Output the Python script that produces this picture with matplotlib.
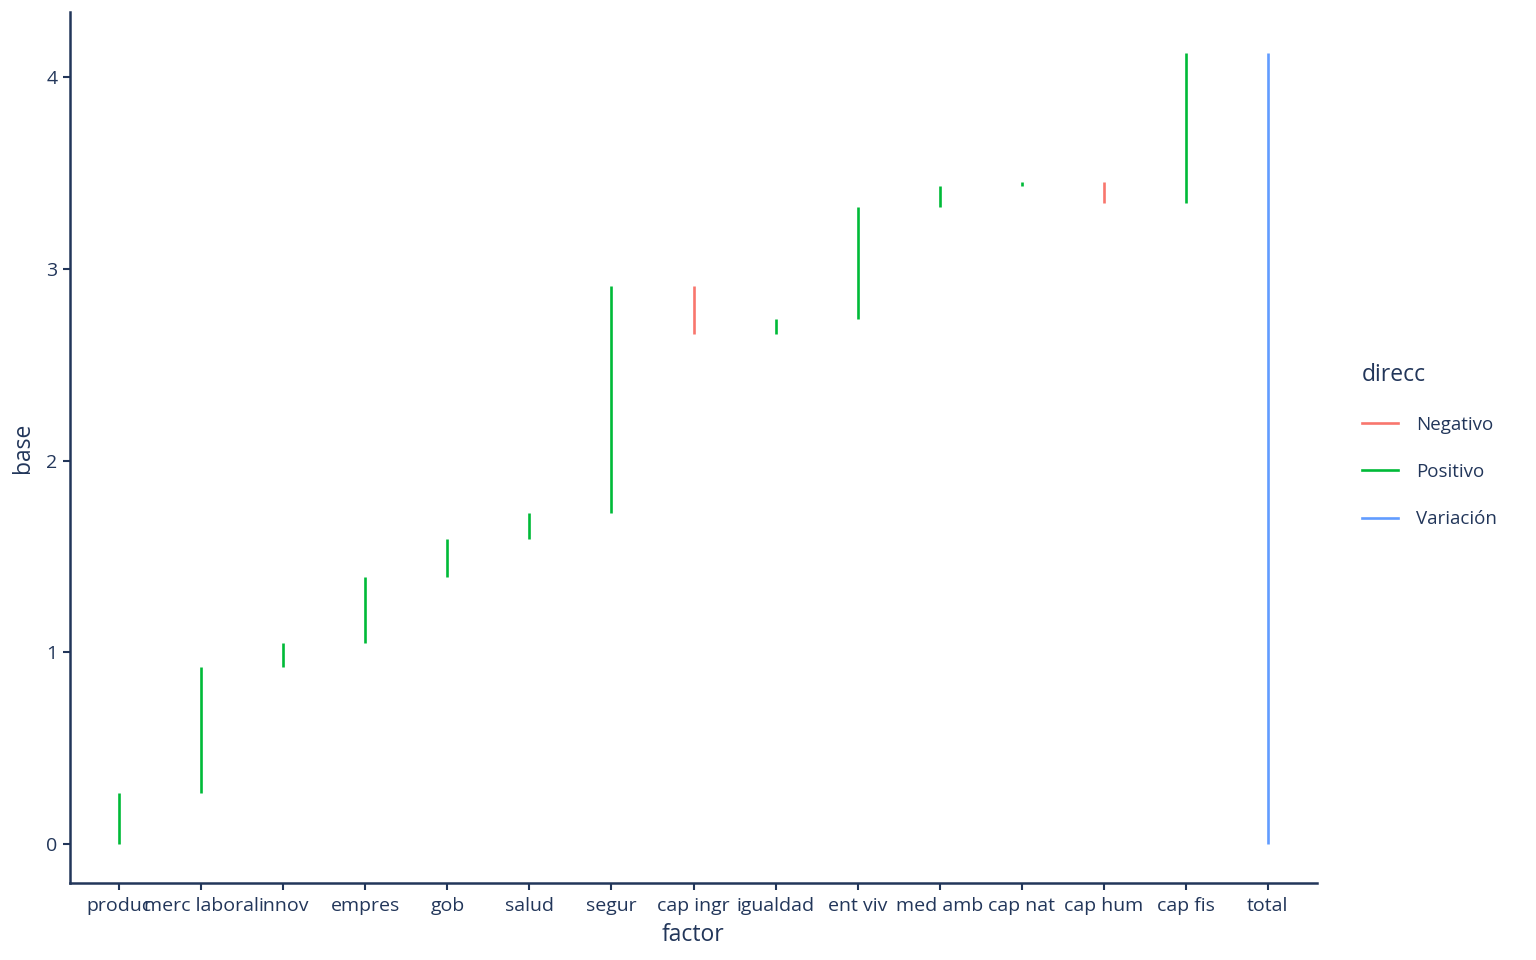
import matplotlib.pyplot as plt
from matplotlib.lines import Line2D

plt.rcParams['font.family'] = ['Open Sans', 'DejaVu Sans']

# waterfall data
factores = ['produc', 'merc laboral', 'innov', 'empres', 'gob', 'salud', 'segur',
            'cap ingr', 'igualdad', 'ent viv', 'med amb', 'cap nat', 'cap hum',
            'cap fis', 'total']
base = [0.0, 0.266, 0.923, 1.048, 1.392, 1.591, 1.726,
        2.910, 2.660, 2.738, 3.322, 3.431, 3.452, 3.343, 0.0]
fin = [0.266, 0.923, 1.048, 1.392, 1.591, 1.726, 2.910,
       2.660, 2.738, 3.322, 3.431, 3.452, 3.343, 4.125, 4.125]
direcc = ['Positivo'] * 7 + ['Negativo', 'Positivo', 'Positivo', 'Positivo',
                             'Positivo', 'Negativo', 'Positivo', 'Variación']

colores = {'Negativo': '#F8766D', 'Positivo': '#00BA38', 'Variación': '#619CFF'}
texto = '#22365A'

fig = plt.figure(figsize=(15.36, 9.6), dpi=100)
ax = fig.add_axes([70 / 1536, 77 / 960, 1247 / 1536, 871 / 960])

x = list(range(1, len(factores) + 1))
for xi, b, f, d in zip(x, base, fin, direcc):
    ax.plot([xi, xi], [b, f], color=colores[d], lw=1.9, solid_capstyle='butt')

ax.set_xlim(0.4, len(factores) + 0.6)
ax.set_ylim(-0.203, 4.339)
ax.set_xticks(x)
ax.set_xticklabels(factores)
ax.set_yticks([0, 1, 2, 3, 4])

for s in ['top', 'right']:
    ax.spines[s].set_visible(False)
for s in ['left', 'bottom']:
    ax.spines[s].set_color(texto)
    ax.spines[s].set_linewidth(1.8)
ax.tick_params(colors=texto, labelsize=14, length=5, width=1.5, pad=4)
ax.tick_params(axis='x', pad=5)
ax.set_xlabel('factor', color=texto, fontsize=16.5, labelpad=6)
ax.set_ylabel('base', color=texto, fontsize=16.5, labelpad=8)

handles = [Line2D([0], [0], color=colores[k], lw=1.9) for k in colores]
leg = fig.legend(handles, list(colores), title='direcc', loc='upper left',
                 bbox_to_anchor=(1345 / 1536, 1 - 346 / 960), frameon=False,
                 fontsize=13.5, title_fontsize=16.5, handlelength=1.9,
                 labelspacing=1.55, handletextpad=1.0)
leg._legend_box.align = 'left'
leg.get_title().set_color(texto)
for t in leg.get_texts():
    t.set_color(texto)

fig.savefig('out.png', dpi=100)
